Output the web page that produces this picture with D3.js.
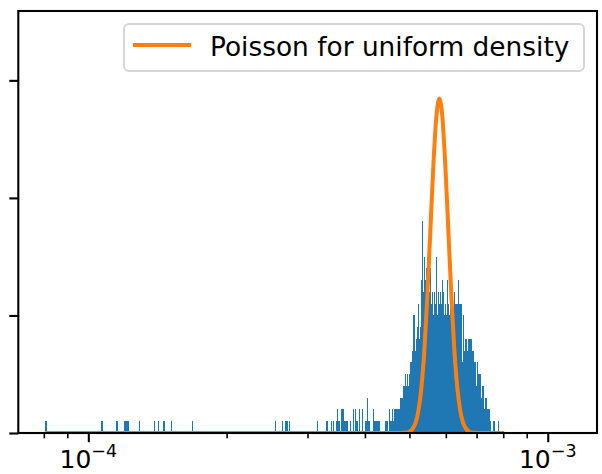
<!DOCTYPE html>
<html>
<head>
<meta charset="utf-8">
<script src="https://cdn.jsdelivr.net/npm/d3@7"></script>
<style>
  html, body { margin: 0; padding: 0; background: #ffffff; }
  svg { display: block; font-family: "DejaVu Sans", sans-serif; }
</style>
</head>
<body>
<svg id="chart" width="602" height="474"></svg>
<script>
// ---------------- data ----------------
// histogram bins: linear width, origin at data minimum
const binOrigin = 8.05e-5;
const binWidth = 9.3e-7;

// isolated (sparse) bins: bin index and count
const sparseBin = [0, 28, 37, 42, 43, 44, 52, 63, 66, 70, 76, 94,
  187, 197, 202, 203, 204, 208,
  252, 268, 269, 276, 280, 286, 288, 290, 292, 294, 296, 298, 300, 302,
  305, 307, 313, 319, 323, 325, 327, 331, 337, 344, 346, 348, 351, 353,
  362, 364, 366, 368, 371, 373, 375];
const sparseCount = [1, 1, 1, 1, 1, 1, 1, 1, 1, 1, 1, 1,
  1, 1, 1, 1, 1, 1,
  1, 1, 1, 1, 1, 1, 2, 1, 1, 2, 2, 2, 1, 1,
  1, 1, 1, 2, 2, 1, 1, 2, 2, 1, 1, 3, 1, 1,
  2, 1, 1, 1, 1, 1, 1];

// dense core: counts for consecutive groups of 3 bins starting at bin 390
const denseFirstBin = 390;
const denseGroupSize = 3;
const denseCounts = [
  1, 1, 0, 2, 1, 2, 1, 2, 2, 2,
  2, 2, 3, 3, 3, 4, 5, 4, 5, 4,
  5, 6, 6, 7, 10, 7, 8, 9, 11, 8,
  9, 13, 18, 12, 15, 13, 14, 15, 16, 12,
  14, 11, 12, 10, 12, 11, 15, 10, 12, 11,
  12, 11, 13, 12, 10, 11, 10, 10, 13, 11,
  10, 14, 11, 10, 10, 12, 11, 10, 11, 11,
  13, 11, 11, 11, 6, 9, 10, 7, 8, 8,
  7, 7, 8, 8, 8, 8, 7, 6, 7, 6,
  6, 4, 6, 4, 5, 5, 4, 5, 3, 4,
  4, 2, 2, 3, 3, 2, 1, 2, 2, 1,
  1, 0, 0, 1, 1, 1, 0, 0, 0, 0,
  0, 1, 0];

// Poisson curve for uniform density (x value, expected count)
const poissonX = [8.05e-5, 4.636e-4, 4.874e-4, 4.998e-4, 5.074e-4, 5.151e-4, 5.229e-4,
  5.308e-4, 5.389e-4, 5.470e-4, 5.553e-4, 5.637e-4, 5.723e-4, 5.808e-4,
  5.896e-4, 5.985e-4, 6.076e-4, 6.168e-4, 6.261e-4, 6.356e-4, 6.452e-4,
  6.550e-4, 6.649e-4, 6.750e-4, 6.921e-4, 7.277e-4, 8.03e-4];
const poissonY = [0, 0, 0.015, 0.11, 0.32, 0.81, 1.87,
  3.85, 7.10, 11.70, 17.26, 22.78, 26.91, 28.45,
  26.91, 22.78, 17.26, 11.70, 7.10, 3.85, 1.87,
  0.81, 0.32, 0.11, 0.015, 0, 0];

const xDomain = [7.04e-5, 1.28e-3];
const yDomain = [0, 35.9];
const yTicks = [0, 10, 20, 30];
const xMajorTicks = [1e-4, 1e-3];
const xMajorExponents = ["\u22124", "\u22123"];
const xMinorTicks = [8e-5, 9e-5, 2e-4, 3e-4, 4e-4, 5e-4, 6e-4, 7e-4, 8e-4, 9e-4];
const legendLabel = "Poisson for uniform density";

// ---------------- layout ----------------
const W = 602, H = 474;
const plot = { left: 18.3, right: 597, top: 11, bottom: 433 };
const blue = "#1f77b4", orange = "#ff7f0e";

const svg = d3.select("#chart");
const x = d3.scaleLog().domain(xDomain).range([plot.left, plot.right]);
const y = d3.scaleLinear().domain(yDomain).range([plot.bottom, plot.top]);

svg.append("defs").append("clipPath").attr("id", "clip")
  .append("rect")
  .attr("x", plot.left).attr("y", plot.top)
  .attr("width", plot.right - plot.left).attr("height", plot.bottom - plot.top);

const g = svg.append("g").attr("clip-path", "url(#clip)");

// build bar list
const bars = [];
sparseBin.forEach((b, i) => {
  const s = binOrigin + b * binWidth;
  bars.push({ x0: s, x1: s + binWidth, c: sparseCount[i] });
});
denseCounts.forEach((c, i) => {
  const s = binOrigin + (denseFirstBin + i * denseGroupSize) * binWidth;
  bars.push({ x0: s, x1: s + denseGroupSize * binWidth, c: c });
});

g.append("g").selectAll("rect")
  .data(bars.filter(d => d.c > 0))
  .join("rect")
  .attr("x", d => x(d.x0))
  .attr("width", d => Math.max(x(d.x1) - x(d.x0), 1))
  .attr("y", d => y(d.c))
  .attr("height", d => y(0) - y(d.c))
  .attr("fill", blue)
  .attr("shape-rendering", "crispEdges");

// Poisson line
const pts = poissonX.map((v, i) => [v, poissonY[i]]);
g.append("path")
  .datum(pts)
  .attr("fill", "none")
  .attr("stroke", orange)
  .attr("stroke-width", 4)
  .attr("stroke-linejoin", "round")
  .attr("d", d3.line().x(d => x(d[0])).y(d => y(d[1])).curve(d3.curveMonotoneX));

// Y axis ticks (no labels)
const yAxis = svg.append("g")
  .attr("transform", `translate(${plot.left},0)`)
  .call(d3.axisLeft(y).tickValues(yTicks).tickSize(9).tickFormat(""));
yAxis.select(".domain").remove();
yAxis.selectAll(".tick line").attr("stroke", "#000").attr("stroke-width", 2.1);

// X axis: minor ticks
const xMinor = svg.append("g")
  .attr("transform", `translate(0,${plot.bottom})`)
  .call(d3.axisBottom(x).tickValues(xMinorTicks).tickSize(5.3).tickFormat(""));
xMinor.select(".domain").remove();
xMinor.selectAll(".tick line").attr("stroke", "#000").attr("stroke-width", 1.6);

// X axis: major ticks
const xMajor = svg.append("g")
  .attr("transform", `translate(0,${plot.bottom})`)
  .call(d3.axisBottom(x).tickValues(xMajorTicks).tickSize(9.2).tickFormat(""));
xMajor.select(".domain").remove();
xMajor.selectAll(".tick line").attr("stroke", "#000").attr("stroke-width", 2.1);

// major tick labels 10^{-n}
xMajorTicks.forEach((t, i) => {
  const txt = svg.append("text")
    .attr("x", x(t))
    .attr("y", 468)
    .attr("text-anchor", "middle")
    .attr("font-size", 25)
    .attr("fill", "#000");
  txt.append("tspan").text("10");
  txt.append("tspan").attr("dy", -11).attr("font-size", 17.5).text(xMajorExponents[i]);
});

// spines
svg.append("rect")
  .attr("x", plot.left).attr("y", plot.top)
  .attr("width", plot.right - plot.left).attr("height", plot.bottom - plot.top)
  .attr("fill", "none").attr("stroke", "#000").attr("stroke-width", 2.1);

// legend
const leg = svg.append("g");
leg.append("rect")
  .attr("x", 124).attr("y", 24).attr("width", 460).attr("height", 47)
  .attr("rx", 5).attr("ry", 5)
  .attr("fill", "#ffffff").attr("fill-opacity", 0.8)
  .attr("stroke", "#d6d6d6").attr("stroke-width", 2);
leg.append("line")
  .attr("x1", 133).attr("x2", 191).attr("y1", 45).attr("y2", 45)
  .attr("stroke", orange).attr("stroke-width", 4);
leg.append("text")
  .attr("x", 210).attr("y", 55.5)
  .attr("font-size", 26.4)
  .attr("fill", "#000")
  .text(legendLabel);
</script>
</body>
</html>
